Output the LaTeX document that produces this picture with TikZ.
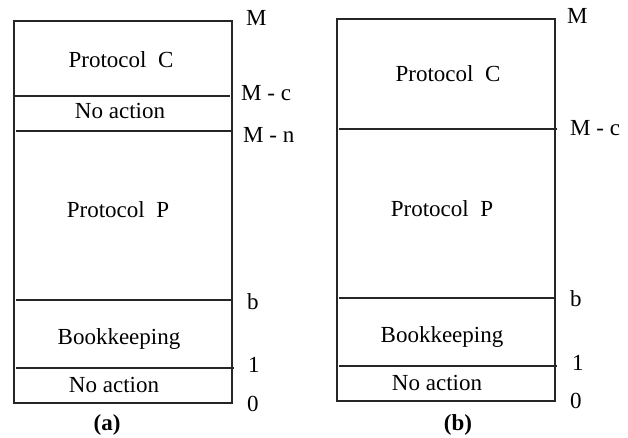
\documentclass[tikz,border=0pt]{standalone}
\usepackage{fontspec}
\setmainfont{Liberation Serif}
\begin{document}
\begin{tikzpicture}[x=1pt,y=-1pt,
  frame/.style={draw=black!85,line width=1.4pt},
  divider/.style={draw=black!85,line width=1.4pt},
  lbl/.style={anchor=base,inner sep=0pt,font=\fontsize{23}{27}\selectfont},
  side/.style={anchor=base west,inner sep=0pt,font=\fontsize{23}{27}\selectfont},
  caplabel/.style={anchor=base,inner sep=0pt,font=\fontsize{23}{27}\selectfont\bfseries}]
\useasboundingbox (0,0) rectangle (628,438);
% ---- (a) ----
\draw[frame] (14,21) rectangle (232,403);
\draw[divider] (12.5,96) -- (230,96);
\draw[divider] (16,131) -- (233,131);
\draw[divider] (16,300) -- (231,300);
\draw[divider] (16,368) -- (234,368);
\node[lbl] (pca) at (121,68) {Protocol\ \ C};
\node[lbl] (naa1) at (120,119) {No action};
\node[lbl] (ppa) at (118,218) {Protocol\ \ P};
\node[lbl] (bka) at (119,344) {Bookkeeping};
\node[lbl] (naa2) at (114,392) {No action};
\node[side] (ma) at (246,26) {M};
\node[side] (mca) at (241,101) {M - c};
\node[side] (mna) at (243,143) {M - n};
\node[side] (ba) at (247,309) {b};
\node[side] (onea) at (248,372) {1};
\node[side] (zeroa) at (247,411) {0};
\node[caplabel] (capa) at (107,430) {(a)};
% ---- (b) ----
\draw[frame] (337,19) rectangle (555,401);
\draw[divider] (339,129) -- (557,129);
\draw[divider] (339,298) -- (555,298);
\draw[divider] (339,366) -- (557,366);
\node[lbl] (pcb) at (448,82) {Protocol\ \ C};
\node[lbl] (ppb) at (442,216) {Protocol\ \ P};
\node[lbl] (bkb) at (442,342) {Bookkeeping};
\node[lbl] (nab) at (437,390) {No action};
\node[side] (mb) at (567,24) {M};
\node[side] (mcb) at (570,136) {M - c};
\node[side] (bb) at (570,306) {b};
\node[side] (oneb) at (572,370) {1};
\node[side] (zerob) at (570,408) {0};
\node[caplabel] (capb) at (458,430) {(b)};
\end{tikzpicture}
\end{document}
